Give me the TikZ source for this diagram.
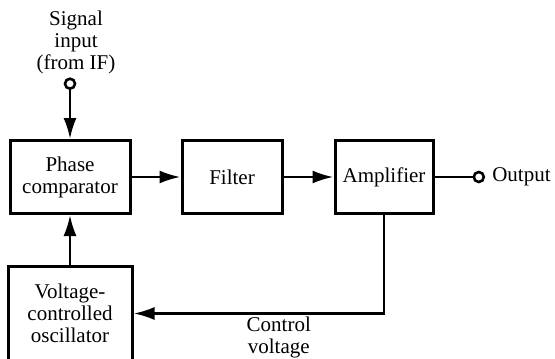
\documentclass[tikz,border=0pt]{standalone}
\usepackage{fontspec}
\setmainfont{Liberation Serif}
\usetikzlibrary{arrows.meta,positioning}

\begin{document}
\begin{tikzpicture}[
    x=1pt, y=1pt,
    node distance=50pt,
    every node/.style={font=\fontsize{21}{22}\selectfont, align=center},
    block/.style={draw, line width=3pt, minimum height=73pt, inner sep=2pt},
    terminal/.style={draw, circle, line width=2.6pt, minimum size=10pt, inner sep=0pt},
    edge/.style={-{Latex[length=21pt,width=13pt]}, line width=2.6pt},
    wire/.style={line width=2.6pt}
]
\useasboundingbox (0,0) rectangle (555,-359);
\node[block, minimum width=120pt] (pc) at (70,-177) {Phase\\comparator};
\node[block, minimum width=100pt, right=49pt of pc] (filter) {Filter};
\node[block, minimum width=98pt, right=50pt of filter] (amp) {Amplifier};
\node[block, minimum width=124pt, minimum height=94pt, below=50pt of pc] (vco)
    {Voltage-\\controlled\\oscillator};
\node[terminal, above=49pt of pc] (in) {};
\node[above=0pt of in, xshift=6pt] (sig) {Signal\\input\\(from IF)};
\node[terminal, right=38pt of amp] (out) {};
\node[right=5pt of out, inner sep=2pt] (outlbl) {Output};

\draw[edge] (in) -- (pc);
\draw[edge] (pc) -- (filter);
\draw[edge] (filter) -- (amp);
\draw[wire] (amp) -- (out);
\draw[edge] (vco) -- (pc);
\draw[edge] (amp.south) |- node[pos=0.71, below, yshift=1pt]{Control\\voltage} (vco.east);
\end{tikzpicture}
\end{document}
